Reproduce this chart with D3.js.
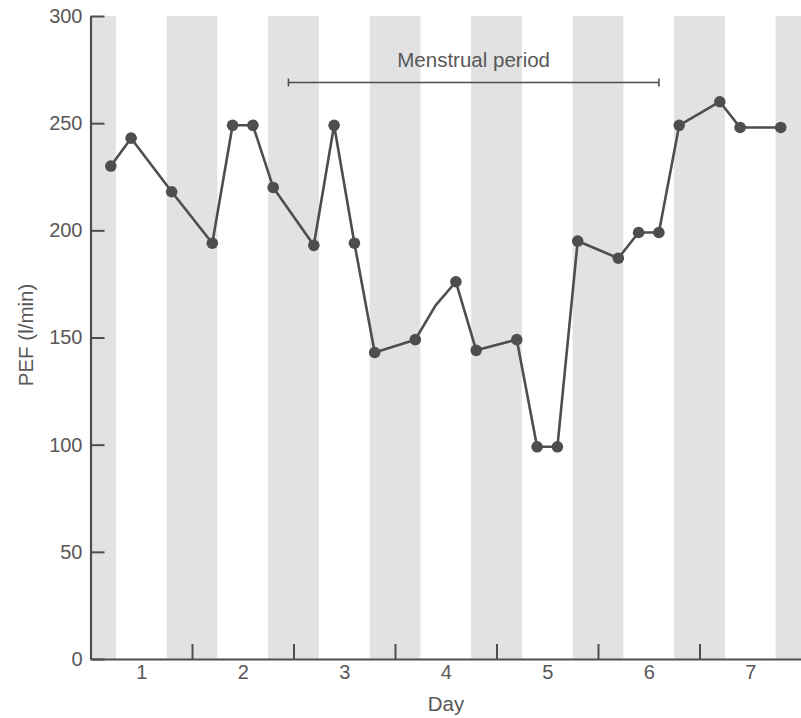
<!DOCTYPE html>
<html>
<head>
<meta charset="utf-8">
<script src="https://cdn.jsdelivr.net/npm/d3@7"></script>
<style>
  html, body { margin: 0; padding: 0; background: #fff; }
  svg { display: block; font-family: "Liberation Sans", Arial, Helvetica, sans-serif; }
</style>
</head>
<body>
<svg id="chart" width="801" height="718"></svg>
<script>
// Peak expiratory flow readings over seven days
const readingTimes = [0.7, 0.9, 1.3, 1.7, 1.9, 2.1, 2.3, 2.7, 2.9, 3.1, 3.3, 3.7, 3.9, 4.1, 4.3, 4.7, 4.9, 5.1, 5.3, 5.7, 5.9, 6.1, 6.3, 6.7, 6.9, 7.3];
const pefValues    = [230, 243, 218, 194, 249, 249, 220, 193, 249, 194, 143, 149, 165, 176, 144, 149, 99, 99, 195, 187, 199, 199, 249, 260, 248, 248];
const hasMarker    = [true, true, true, true, true, true, true, true, true, true, true, true, false, true, true, true, true, true, true, true, true, true, true, true, true, true];

const dayLabels = [1, 2, 3, 4, 5, 6, 7];
const dayBoundaries = [0.5, 1.5, 2.5, 3.5, 4.5, 5.5, 6.5, 7.5];
const yTicks = [0, 50, 100, 150, 200, 250, 300];
const menstrualSpan = [2.45, 6.1];
const menstrualLabel = "Menstrual period";

const svg = d3.select("#chart");
const ink = "#4e4e4e";
const textInk = "#585858";
const tickFont = 20;
const titleFont = 20.5;

const x = d3.scaleLinear().domain([0.5, 7.5]).range([90.5, 801]);
const y = d3.scaleLinear().domain([0, 300]).range([659, 16]);

// Shaded bands: half a day wide, centred on each day boundary
const bandHalf = 0.25;
svg.append("g").selectAll("rect")
  .data(dayBoundaries)
  .join("rect")
  .attr("x", d => x(Math.max(d - bandHalf, 0.5)))
  .attr("width", d => x(Math.min(d + bandHalf, 7.5)) - x(Math.max(d - bandHalf, 0.5)))
  .attr("y", y(300))
  .attr("height", y(0) - y(300))
  .attr("fill", "#e2e2e2");

// Y axis with inward ticks
const yAxis = svg.append("g")
  .attr("transform", `translate(${x(0.5)},0)`)
  .call(d3.axisLeft(y).tickValues(yTicks).tickSize(-14).tickPadding(8).tickSizeOuter(0));
yAxis.select(".domain").attr("stroke", ink).attr("stroke-width", 2.2);
yAxis.selectAll(".tick line").attr("stroke", ink).attr("stroke-width", 2);
yAxis.selectAll(".tick text")
  .attr("fill", textInk).attr("font-size", tickFont).attr("font-family", "Liberation Sans, Arial, sans-serif");

// X axis: day labels (no ticks) and inward ticks at day boundaries
const xLabels = svg.append("g")
  .attr("transform", `translate(0,${y(0)})`)
  .call(d3.axisBottom(x).tickValues(dayLabels).tickFormat(d3.format("d")).tickSize(0).tickPadding(6).tickSizeOuter(0));
xLabels.select(".domain").attr("stroke", ink).attr("stroke-width", 2.2);
xLabels.selectAll(".tick text")
  .attr("fill", textInk).attr("font-size", tickFont).attr("font-family", "Liberation Sans, Arial, sans-serif");

const xTicks = svg.append("g")
  .attr("transform", `translate(0,${y(0)})`)
  .call(d3.axisBottom(x).tickValues(dayBoundaries.slice(1, -1)).tickSize(-15).tickFormat("").tickSizeOuter(0));
xTicks.select(".domain").remove();
xTicks.selectAll(".tick line").attr("stroke", ink).attr("stroke-width", 2);

// Axis titles
svg.append("text")
  .attr("x", 446).attr("y", 711)
  .attr("text-anchor", "middle")
  .attr("fill", textInk).attr("font-size", titleFont)
  .text("Day");

svg.append("text")
  .attr("transform", `translate(33,${335}) rotate(-90)`)
  .attr("text-anchor", "middle")
  .attr("fill", textInk).attr("font-size", titleFont)
  .text("PEF (l/min)");

// Menstrual period bracket
const bracketY = 82.5;
const bracket = svg.append("g").attr("stroke", ink).attr("stroke-width", 1.6);
bracket.append("line")
  .attr("x1", x(menstrualSpan[0])).attr("x2", x(menstrualSpan[1]))
  .attr("y1", bracketY).attr("y2", bracketY);
menstrualSpan.forEach(d => {
  bracket.append("line")
    .attr("x1", x(d)).attr("x2", x(d))
    .attr("y1", bracketY - 4).attr("y2", bracketY + 4);
});
svg.append("text")
  .attr("x", (x(menstrualSpan[0]) + x(menstrualSpan[1])) / 2)
  .attr("y", 67)
  .attr("text-anchor", "middle")
  .attr("fill", textInk).attr("font-size", titleFont)
  .text(menstrualLabel);

// PEF series
const points = readingTimes.map((t, i) => ({ t, v: pefValues[i], marked: hasMarker[i] }));

svg.append("path")
  .datum(points)
  .attr("d", d3.line().x(d => x(d.t)).y(d => y(d.v)))
  .attr("fill", "none")
  .attr("stroke", ink)
  .attr("stroke-width", 2.6)
  .attr("stroke-linejoin", "round");

svg.append("g").selectAll("circle")
  .data(points.filter(d => d.marked))
  .join("circle")
  .attr("cx", d => x(d.t))
  .attr("cy", d => y(d.v))
  .attr("r", 5.8)
  .attr("fill", ink);
</script>
</body>
</html>
